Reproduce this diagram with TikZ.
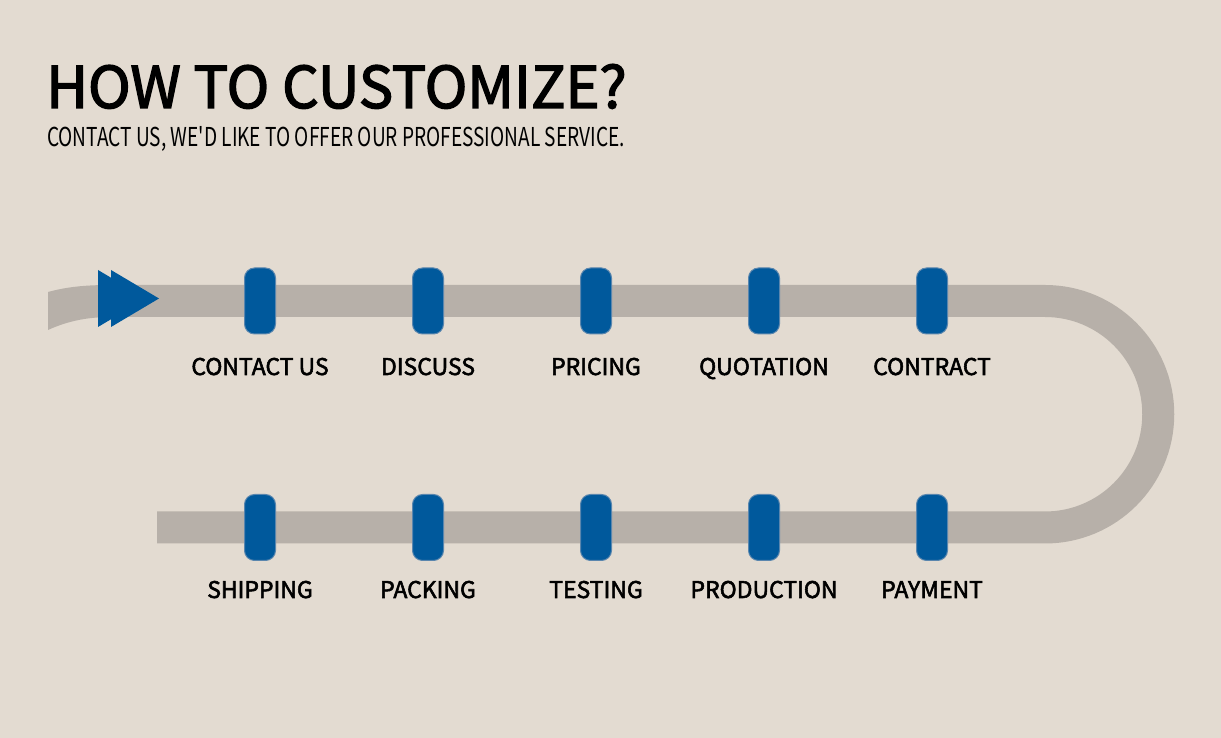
\documentclass[tikz,border=0pt]{standalone}
\usepackage{fontspec}
\setmainfont{Noto Sans CJK SC}
\newfontfamily\plainfont[Ligatures=TeXOff]{Noto Sans CJK SC}
\usepackage{xcolor}
\definecolor{bgsand}{HTML}{E3DBD1}
\definecolor{track}{HTML}{B7B0A9}
\definecolor{stepblue}{HTML}{00599C}
\definecolor{stepedge}{HTML}{5A86AE}

\begin{document}
\begin{tikzpicture}[x=1pt,y=1pt,
 marker/.style={fill=stepblue,draw=stepedge,line width=1pt,rounded corners=10pt,
 minimum width=31pt,minimum height=66pt,inner sep=0pt},
 steplabel/.style={anchor=base,font=\fontsize{23}{26}\selectfont\addfontfeature{FakeBold=2.4},
 text=black,inner sep=0pt}]
 \fill[bgsand] (0,0) rectangle (1221,738);
 \useasboundingbox (0,0) rectangle (1221,738);
 % title
 \node[anchor=base west,inner sep=0pt,font=\fontsize{57.5}{60}\selectfont\addfontfeature{FakeBold=2.5}] (title)
 at (46,630) {HOW TO CUSTOMIZE?};
 \node[anchor=base west,inner sep=0pt,font=\plainfont\fontsize{26}{30}\selectfont] (subtitle) at (47,591)
 {\scalebox{0.735}[1]{CONTACT US, WE'D LIKE TO OFFER OUR PROFESSIONAL SERVICE.}};
 % track
 \fill[track] (48,446) .. controls (70,452) and (90,453) .. (112,453)
 -- (112,421) .. controls (90,421) and (70,418) .. (48,408) -- cycle;
 \draw[track,line width=32pt] (110,437) -- (1045,437)
 arc (90:-90:113.25) -- (157,210.5);
 % start arrow
 \fill[stepblue] (98,468) -- (146,439.5) -- (98,411) -- cycle;
 \fill[stepblue] (111,468) -- (159,439.5) -- (111,411) -- cycle;
 % steps
 \foreach \x/\name/\txt in {260/s1/CONTACT US,428/s2/DISCUSS,596/s3/PRICING,764/s4/QUOTATION,932/s5/CONTRACT}{
 \node[marker] (\name) at (\x,437) {};
 \node[steplabel] (\name-l) at (\x,363) {\txt};
 }
 \foreach \x/\name/\txt in {260/s10/SHIPPING,428/s9/PACKING,596/s8/TESTING,764/s7/PRODUCTION,932/s6/PAYMENT}{
 \node[marker] (\name) at (\x,210.5) {};
 \node[steplabel] (\name-l) at (\x,140) {\txt};
 }
\end{tikzpicture}
\end{document}
